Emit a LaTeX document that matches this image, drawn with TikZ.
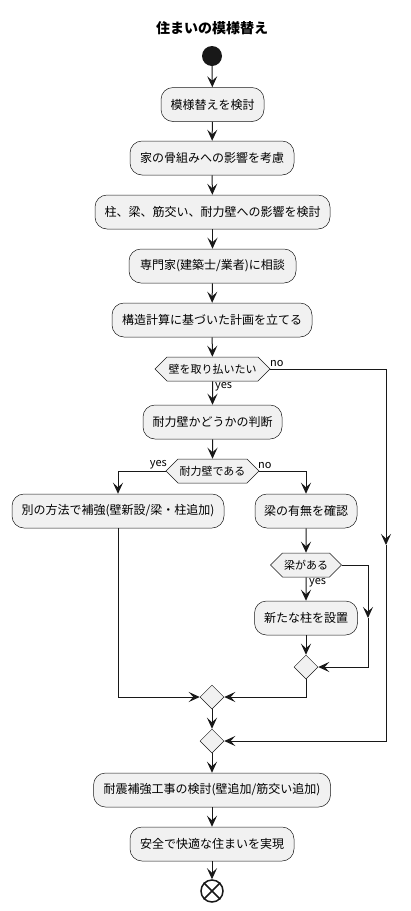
\documentclass[tikz,border=0pt]{standalone}
\usepackage{fontspec}
\setmainfont{Noto Sans CJK JP}
\usetikzlibrary{shapes.symbols,shapes.geometric,arrows.meta}
\definecolor{lc}{HTML}{181818}
\definecolor{boxf}{HTML}{F1F1F1}
\begin{document}
\begin{tikzpicture}[x=1pt,y=-1pt,
  act/.style={draw=lc, line width=0.5pt, fill=boxf, rounded corners=12pt, minimum height=34pt, inner xsep=8pt, inner ysep=0pt, font=\fontsize{12}{14}\selectfont},
  dec/.style={signal, signal to=west and east, signal pointer angle=90, draw=lc, line width=0.5pt, fill=boxf, minimum height=24pt, inner xsep=1.5pt, inner ysep=0pt, font=\fontsize{11}{13}\selectfont},
  merge/.style={diamond, draw=lc, line width=0.5pt, fill=boxf, minimum size=24pt, inner sep=0pt},
  flow/.style={line width=1pt, draw=lc, -{Stealth[length=11pt,width=10pt,inset=4.5pt]}},
  line/.style={line width=1pt, draw=lc},
  lbl/.style={font=\fontsize{11}{13}\selectfont, inner sep=1pt, text=black},
]
\useasboundingbox (0,0) rectangle (411,911);
\node[font=\bfseries\fontsize{14}{16}\selectfont] (title) at (212,28) {住まいの模様替え};
\node[circle, fill=lc, minimum size=20pt, inner sep=0pt] (start) at (212,56) {};
\node[act, minimum width=103pt] (b1) at (212.5,104.5) {模様替えを検討};
\node[act, minimum width=164pt] (b2) at (212,158) {家の骨組みへの影響を考慮};
\node[act, minimum width=235pt] (b3) at (212.5,212) {柱、梁、筋交い、耐力壁への影響を検討};
\node[act, minimum width=167pt] (b4) at (212.5,266) {専門家(建築士/業者)に相談};
\node[act, minimum width=200pt] (b5) at (212,320) {構造計算に基づいた計画を立てる};
\node[dec] (d1) at (212.5,369) {壁を取り払いたい};
\node[act, minimum width=139pt] (b6) at (212.5,422) {耐力壁かどうかの判断};
\node[dec] (d2) at (212.5,471) {耐力壁である};
\node[act, minimum width=212pt] (b7) at (118,511) {別の方法で補強(壁新設/梁・柱追加)};
\node[act, minimum width=102pt] (b8) at (306,511) {梁の有無を確認};
\node[dec] (d3) at (306,565) {梁がある};
\node[act, minimum width=103pt] (b9) at (306,618) {新たな柱を設置};
\node[merge] (m3) at (306,667) {};
\node[merge] (m4) at (212,697) {};
\node[merge] (m5) at (212,741) {};
\node[act, minimum width=237pt] (b10) at (212,790) {耐震補強工事の検討(壁追加/筋交い追加)};
\node[act, minimum width=164pt] (b11) at (212,844) {安全で快適な住まいを実現};
\node[circle, draw=lc, line width=1.5pt, fill=white, minimum size=22pt, inner sep=0pt] (end) at (212,891) {};
\draw[lc, line width=1.5pt] (end.north east) -- (end.south west) (end.north west) -- (end.south east);

\draw[flow] (start) -- (b1);
\draw[flow] (b1) -- (b2);
\draw[flow] (b2) -- (b3);
\draw[flow] (b3) -- (b4);
\draw[flow] (b4) -- (b5);
\draw[flow] (b5) -- (d1);
\draw[flow] (d1) -- (b6);
\draw[flow] (b6) -- (d2);
% no branch of d1
\coordinate (r1) at (386,369);
\coordinate (rm) at (386,545);
\coordinate (r2) at (386,741);
\draw[flow] (d1.east) -- (r1) -- (rm);
\draw[flow] (rm) -- (r2) -- (m5.east);
% d2 branches
\coordinate (l1) at (118,471);
\coordinate (p1) at (306,471);
\draw[flow] (d2.west) -- (l1) -- (b7.north);
\draw[flow] (d2.east) -- (p1) -- (b8.north);
\draw[flow] (b8) -- (d3);
\draw[flow] (d3) -- (b9);
\draw[flow] (b9) -- (m3);
\coordinate (s1) at (368,565);
\coordinate (sm) at (368,618);
\coordinate (s2) at (368,667);
\draw[flow] (d3.east) -- (s1) -- (sm);
\draw[flow] (sm) -- (s2) -- (m3.east);
\coordinate (q1) at (118,697);
\draw[flow] (b7.south) -- (q1) -- (m4.west);
\coordinate (q2) at (306,697);
\draw[flow] (m3.south) -- (q2) -- (m4.east);
\draw[flow] (m4) -- (m5);
\draw[flow] (m5) -- (b10);
\draw[flow] (b10) -- (b11);
\draw[flow] (b11) -- (end);
% labels
\node[lbl, anchor=south west] (n1) at (269,368) {no};
\node[lbl, anchor=west] (y1) at (214,387) {yes};
\node[lbl, anchor=south east] (y2) at (168,470) {yes};
\node[lbl, anchor=south west] (n2) at (257,470) {no};
\node[lbl, anchor=west] (y3) at (308,583) {yes};
\end{tikzpicture}
\end{document}
